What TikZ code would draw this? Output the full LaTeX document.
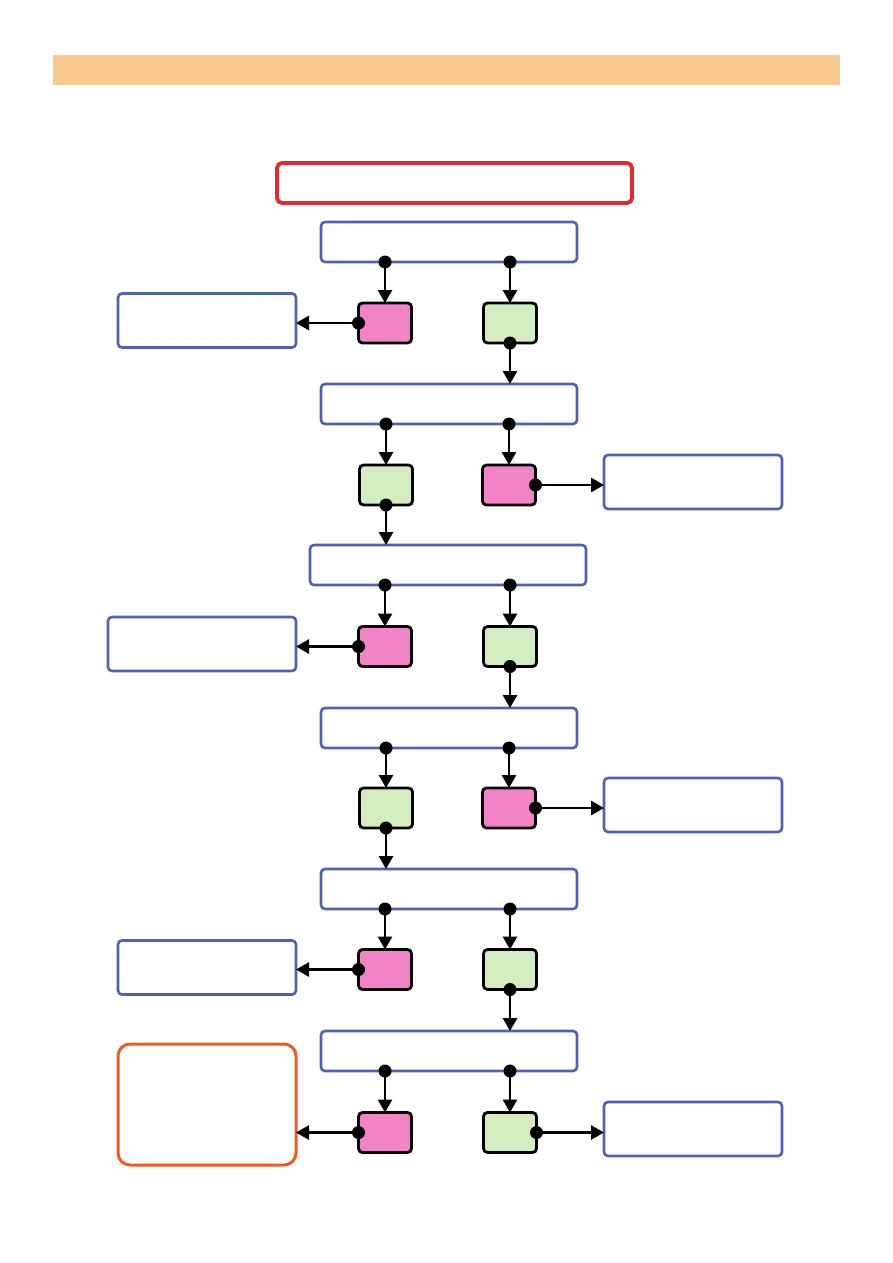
\documentclass[tikz,border=0pt]{standalone}
\usetikzlibrary{arrows.meta}
\definecolor{band}{HTML}{F9CA8E}
\definecolor{redb}{HTML}{E52A2F}
\definecolor{blueb}{HTML}{5060B4}
\definecolor{orangeb}{HTML}{EE5A24}
\definecolor{pinkf}{HTML}{F283C6}
\definecolor{greenf}{HTML}{D3EDC0}
\tikzset{
  box/.style={draw=blueb, line width=2.6pt, rounded corners=4pt, fill=white, inner sep=0pt, outer sep=0pt},
  redbox/.style={draw=redb, line width=3.8pt, rounded corners=5pt, inner sep=0pt, outer sep=0pt},
  orbox/.style={draw=orangeb, line width=3pt, rounded corners=12pt, inner sep=0pt, outer sep=0pt},
  sq/.style={draw=black, line width=2.8pt, rounded corners=4pt, minimum width=53pt, minimum height=40pt, inner sep=0pt, outer sep=0pt},
  pk/.style={sq, fill=pinkf},
  gr/.style={sq, fill=greenf},
  arr/.style={draw=black, line width=2.8pt, -{Triangle[length=13pt,width=14pt]}},
  dotc/.style={fill=black}
}
\begin{document}
\begin{tikzpicture}[x=1pt,y=-1pt]
\useasboundingbox (0,0) rectangle (893,1263);
\fill[band] (53,55) rectangle (840,85);
\node[redbox, minimum width=355pt, minimum height=40pt] (top) at (454.5,183) {};
% main boxes
\node[box, minimum width=256pt, minimum height=40pt] (b1) at (449,242) {};
\node[box, minimum width=256pt, minimum height=40pt] (b2) at (449,404) {};
\node[box, minimum width=276pt, minimum height=40pt] (b3) at (448,565) {};
\node[box, minimum width=256pt, minimum height=40pt] (b4) at (449,728) {};
\node[box, minimum width=256pt, minimum height=40pt] (b5) at (449,889) {};
\node[box, minimum width=256pt, minimum height=40pt] (b6) at (449,1051) {};
% side boxes
\node[box, minimum width=178pt, minimum height=54pt] (L1) at (207,320.5) {};
\node[box, minimum width=178pt, minimum height=54pt] (R2) at (693,482) {};
\node[box, minimum width=188pt, minimum height=54pt] (L3) at (202,644) {};
\node[box, minimum width=178pt, minimum height=54pt] (R4) at (693,805) {};
\node[box, minimum width=178pt, minimum height=54pt] (L5) at (207,967.5) {};
\node[orbox, minimum width=178pt, minimum height=121pt] (L6) at (207,1104.5) {};
\node[box, minimum width=178pt, minimum height=54pt] (R6) at (693,1129) {};
% squares
\node[pk] (s1a) at (385,323) {};
\node[gr] (s1b) at (510,323) {};
\node[gr] (s2a) at (386,485) {};
\node[pk] (s2b) at (509,485) {};
\node[pk] (s3a) at (385,646.5) {};
\node[gr] (s3b) at (510,646.5) {};
\node[gr] (s4a) at (386,808) {};
\node[pk] (s4b) at (509,808) {};
\node[pk] (s5a) at (385,969.5) {};
\node[gr] (s5b) at (510,969.5) {};
\node[pk] (s6a) at (385,1132.5) {};
\node[gr] (s6b) at (510,1132.5) {};
% vertical connectors from boxes to squares
\foreach \b/\s in {b1/s1a,b1/s1b,b2/s2a,b2/s2b,b3/s3a,b3/s3b,b4/s4a,b4/s4b,b5/s5a,b5/s5b,b6/s6a,b6/s6b}{
  \draw[arr] (\b.south -| \s.north) -- (\s.north);
  \fill[dotc] (\b.south -| \s.north) circle (6.5pt);
}
% green squares to next box
\foreach \s/\b in {s1b/b2,s2a/b3,s3b/b4,s4a/b5,s5b/b6}{
  \draw[arr] (\s.south) -- (\s.south |- \b.north);
  \fill[dotc] (\s.south) circle (6.5pt);
}
% pink to left boxes
\foreach \s/\b in {s1a/L1,s3a/L3,s5a/L5,s6a/L6}{
  \draw[arr] (\s.west) -- (\s.west -| \b.east);
  \fill[dotc] (\s.west) circle (6.5pt);
}
% to right boxes
\foreach \s/\b in {s2b/R2,s4b/R4,s6b/R6}{
  \draw[arr] (\s.east) -- (\s.east -| \b.west);
  \fill[dotc] (\s.east) circle (6.5pt);
}
\end{tikzpicture}
\end{document}
